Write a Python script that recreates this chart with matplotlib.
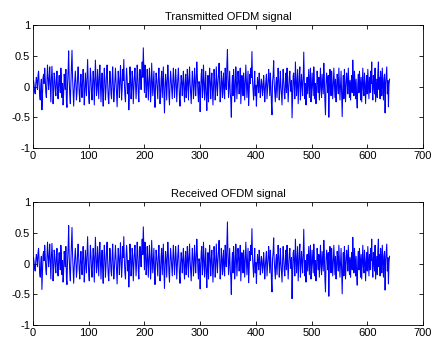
import matplotlib
matplotlib.use("Agg")
import matplotlib.pyplot as plt
from matplotlib.ticker import FixedLocator

plt.rcParams['font.family'] = ['Liberation Sans', 'DejaVu Sans']

transmitted = [
    0.10, 0.02, -0.08, -0.12, 0.05, 0.15, 0.08, -0.05, 0.18, 0.25, 0.05, -0.15, -0.22, 0.02, 0.12, -0.38, -0.15, 0.14, 0.20, 0.05,
    0.30, 0.12, -0.10, -0.18, 0.10, 0.35, 0.15, -0.05, 0.10, 0.32, 0.05, -0.25, 0.10, 0.33, 0.12, -0.28, -0.10, 0.22, 0.15, -0.05,
    -0.15, 0.10, 0.25, -0.05, -0.20, 0.05, 0.18, 0.02, -0.10, 0.30, 0.12, -0.18, 0.05, -0.30, -0.12, 0.20, 0.10, -0.05, 0.28, -0.25,
    -0.34, 0.05, 0.25, 0.58, 0.10, -0.15, -0.28, 0.05, 0.30, 0.59, 0.15, -0.10, -0.32, -0.05, 0.10, 0.25, 0.05, -0.22, -0.10, 0.15,
    0.32, 0.10, -0.12, -0.25, 0.05, 0.20, -0.02, -0.18, 0.10, 0.28, 0.05, -0.30, -0.10, 0.22, 0.05, -0.15, 0.15, 0.44, 0.10, -0.18,
    -0.28, 0.02, 0.30, 0.15, -0.10, -0.22, 0.05, 0.25, 0.10, -0.30, 0.10, 0.43, 0.15, -0.15, -0.05, 0.28, 0.05, -0.20, 0.15, 0.35,
    0.05, -0.25, 0.02, 0.22, -0.10, -0.32, 0.05, 0.30, 0.10, -0.22, -0.05, 0.20, 0.35, 0.05, -0.18, -0.28, 0.02, 0.25, 0.10, -0.12,
    -0.20, 0.10, 0.32, 0.05, -0.25, -0.10, 0.12, 0.30, 0.08, -0.15, -0.33, 0.02, 0.25, 0.10, -0.18, 0.05, 0.34, 0.12, -0.22, -0.05,
    0.28, 0.10, 0.44, 0.05, -0.15, -0.25, 0.10, 0.30, 0.12, -0.12, 0.05, -0.38, -0.10, 0.32, 0.15, -0.20, -0.05, 0.25, 0.12, -0.28,
    -0.05, 0.18, 0.30, 0.05, -0.20, 0.02, 0.35, 0.20, -0.12, -0.25, 0.10, 0.28, 0.15, -0.05, 0.20, 0.40, 0.15, 0.63, 0.25, -0.10,
    0.35, 0.20, -0.18, -0.05, 0.28, 0.10, -0.22, 0.05, 0.30, 0.12, -0.25, -0.08, 0.38, 0.10, -0.15, 0.05, 0.25, -0.12, -0.34, 0.02,
    0.22, 0.10, -0.05, -0.20, 0.15, 0.30, 0.05, -0.28, -0.10, 0.12, 0.25, -0.18, 0.05, 0.32, -0.10, -0.43, -0.05, 0.20, 0.08, -0.22,
    0.05, 0.35, 0.15, -0.15, -0.30, 0.05, 0.25, 0.10, -0.05, -0.20, 0.10, 0.30, 0.05, -0.18, 0.02, 0.28, 0.10, -0.25, -0.05, 0.15,
    0.30, 0.05, -0.20, -0.32, 0.02, 0.18, 0.05, -0.15, 0.10, 0.25, -0.08, -0.25, 0.05, 0.20, -0.18, -0.05, 0.28, 0.10, -0.22, 0.08,
    0.32, 0.05, -0.12, -0.28, 0.02, 0.25, 0.10, -0.20, -0.05, 0.30, 0.12, -0.15, 0.05, 0.40, 0.18, -0.10, -0.25, 0.08, 0.02, -0.41,
    -0.05, 0.20, 0.28, -0.18, -0.05, 0.35, 0.10, -0.22, 0.02, 0.25, -0.15, -0.39, -0.05, 0.18, -0.25, 0.05, 0.30, 0.10, -0.20, 0.05,
    0.22, -0.05, -0.30, 0.02, 0.28, 0.10, -0.22, -0.05, 0.32, 0.10, -0.15, 0.05, 0.20, 0.38, 0.05, -0.25, -0.08, 0.25, 0.10, -0.18,
    0.05, 0.22, -0.12, -0.20, 0.30, 0.08, -0.05, 0.35, 0.60, 0.12, -0.18, 0.05, 0.25, -0.10, -0.22, -0.50, 0.02, 0.18, -0.15, 0.28,
    0.10, -0.25, -0.05, 0.32, 0.12, -0.20, 0.02, 0.25, 0.10, -0.12, 0.05, 0.30, -0.28, -0.05, 0.18, 0.05, -0.15, 0.22, 0.05, -0.22,
    0.05, 0.35, 0.10, -0.18, 0.02, 0.25, -0.31, -0.10, 0.20, 0.05, 0.30, 0.15, 0.57, 0.10, -0.05, -0.22, 0.05, 0.25, -0.15, 0.02,
    -0.32, -0.05, 0.15, 0.05, -0.10, 0.22, 0.08, -0.18, -0.05, 0.12, 0.05, -0.15, -0.05, 0.18, 0.02, -0.25, -0.05, 0.10, 0.20, -0.20,
    -0.05, 0.10, 0.28, 0.05, -0.15, 0.22, 0.02, -0.28, -0.46, 0.08, 0.18, 0.42, 0.05, -0.10, -0.25, 0.05, 0.15, -0.18, 0.05, 0.30,
    0.10, -0.22, -0.05, 0.25, 0.02, -0.15, -0.30, 0.05, 0.28, 0.10, -0.12, -0.20, 0.05, 0.22, -0.10, 0.30, 0.05, -0.25, -0.05, 0.15,
    0.25, 0.02, -0.08, 0.10, -0.51, -0.15, 0.18, 0.22, -0.05, -0.20, 0.40, 0.10, -0.15, 0.05, 0.28, -0.28, -0.05, 0.18, 0.32, -0.22,
    -0.05, 0.20, 0.05, -0.15, 0.12, 0.56, 0.10, -0.20, 0.05, -0.30, -0.05, 0.15, -0.12, 0.10, 0.28, -0.18, 0.08, 0.30, -0.25, -0.05,
    0.22, 0.05, -0.15, 0.32, 0.10, -0.20, 0.05, -0.28, -0.05, 0.25, 0.10, -0.10, 0.15, -0.22, 0.05, 0.30, -0.05, -0.18, 0.20, 0.05,
    -0.12, 0.38, 0.10, -0.25, -0.46, 0.05, 0.22, 0.10, -0.10, 0.18, -0.50, -0.05, 0.28, 0.10, -0.15, 0.25, 0.05, -0.20, 0.02, 0.30,
    0.05, -0.18, 0.12, -0.25, -0.05, 0.20, 0.08, -0.12, 0.30, 0.05, -0.22, 0.02, 0.25, -0.15, -0.49, -0.05, 0.18, -0.20, 0.28, 0.05,
    -0.25, 0.02, 0.22, 0.10, -0.12, 0.30, 0.05, -0.18, 0.10, -0.22, 0.05, 0.18, -0.10, 0.43, 0.10, -0.15, 0.25, 0.05, -0.20, 0.12,
    -0.18, -0.35, 0.05, 0.20, -0.10, 0.25, 0.05, -0.22, 0.15, -0.25, 0.05, 0.30, -0.05, -0.15, 0.22, 0.05, -0.28, 0.02, 0.18, -0.12,
    0.28, 0.05, -0.20, 0.15, -0.10, 0.25, 0.05, 0.40, -0.05, -0.22, 0.18, 0.05, -0.12, 0.30, -0.25, -0.05, 0.12, -0.18, 0.22, 0.40,
    -0.05, 0.15, -0.20, 0.25, 0.08, -0.15, 0.30, 0.05, -0.22, 0.12, 0.20, -0.43, 0.05, 0.18, 0.32, -0.12, 0.10, -0.33, 0.02, 0.12,
]

# Received signal: transmitted signal with the visible channel-noise differences
received_changes = {15: -0.42, 63: 0.62, 197: 0.60, 235: -0.40, 348: 0.68, 464: -0.57, 530: -0.53}
received = list(transmitted)
for idx, val in received_changes.items():
    received[idx] = val

titles = ["Transmitted OFDM signal", "Received OFDM signal"]
series = [transmitted, received]
xticks = [0, 100, 200, 300, 400, 500, 600, 700]
yticks = [-1, -0.5, 0, 0.5, 1]
yticklabels = ["-1", "-0.5", "0", "0.5", "1"]

fig = plt.figure(figsize=(4.32, 3.44), dpi=100)
positions = [[0.0764, 0.570, 0.9027, 0.357], [0.0764, 0.055, 0.9027, 0.357]]

for pos, title, y in zip(positions, titles, series):
    ax = fig.add_axes(pos)
    ax.plot(range(1, len(y) + 1), y, color=(0, 0, 1), lw=0.75)
    ax.set_xlim(0, 700)
    ax.set_ylim(-1, 1)
    ax.xaxis.set_major_locator(FixedLocator(xticks))
    ax.set_xticklabels([str(t) for t in xticks])
    ax.yaxis.set_major_locator(FixedLocator(yticks))
    ax.set_yticklabels(yticklabels)
    ax.tick_params(direction='in', length=3, width=0.6, labelsize=8,
                   top=True, right=True, pad=2)
    for s in ax.spines.values():
        s.set_linewidth(0.6)
    ax.set_title(title, fontsize=8, pad=4)

fig.savefig("out.png", dpi=100)
